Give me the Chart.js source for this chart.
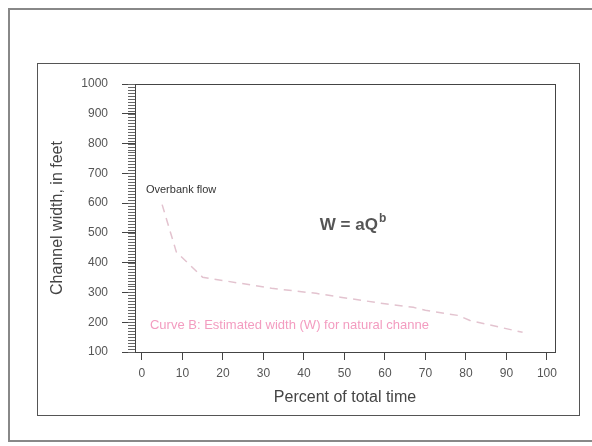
<!DOCTYPE html>
<html>
<head>
<meta charset="utf-8">
<script src="https://cdn.jsdelivr.net/npm/chart.js@4/dist/chart.umd.min.js"></script>
<style>
  html, body { margin: 0; padding: 0; background: #fff; }
  #page { position: relative; width: 592px; height: 446px; overflow: hidden; }
  #outer { position: absolute; left: 8px; top: 8px; width: 600px; height: 434px; border: 2px solid #888; box-sizing: border-box; }
  #inner { position: absolute; left: 37px; top: 63px; width: 543px; height: 353px; border: 1px solid #555; box-sizing: border-box; }
  #chart { position: absolute; left: 0; top: 0; }
</style>
</head>
<body>
<div id="page">
  <div id="outer"></div>
  <div id="inner"></div>
  <canvas id="chart" width="592" height="446"></canvas>
</div>
<script>
// percent of total time vs channel width (ft)
const timePct = [5, 8.5, 15, 32, 43, 49, 60, 67, 70, 78, 81, 94];
const widthFt = [595, 436, 351, 314, 297, 284, 262, 250, 240, 223, 206, 166];

const xTicks = [0, 10, 20, 30, 40, 50, 60, 70, 80, 90, 100];
const yTicks = [100, 200, 300, 400, 500, 600, 700, 800, 900, 1000];

const axisGray = "#555";
const curveColor = "#e3c3cf";
const pink = "#f39cc0";
const fontFamily = "'Liberation Sans', Arial, sans-serif";

const points = timePct.map((x, i) => ({ x, y: widthFt[i] }));

// box round the plot, minor y ticks and the text notes
const decorations = {
  id: "decorations",
  afterDraw(chart) {
    const { ctx, chartArea: a, scales } = chart;
    const xs = scales.x;
    const ys = scales.y;
    ctx.save();
    ctx.strokeStyle = "#444";
    ctx.lineWidth = 1;
    ctx.strokeRect(a.left + 0.5, a.top + 0.5, a.right - a.left, a.bottom - a.top);

    ctx.strokeStyle = "#666";
    ctx.beginPath();
    for (let v = 100; v <= 1000; v += 10) {
      const y = Math.round(ys.getPixelForValue(v)) + 0.5;
      ctx.moveTo(a.left - 7, y);
      ctx.lineTo(a.left, y);
    }
    ctx.stroke();

    ctx.textBaseline = "middle";
    ctx.fillStyle = "#333";
    ctx.font = "11px " + fontFamily;
    ctx.fillText("Overbank flow", xs.getPixelForValue(1), ys.getPixelForValue(645));

    const wx = xs.getPixelForValue(52);
    const wy = ys.getPixelForValue(527);
    ctx.fillStyle = "#555";
    const main = "W = aQ";
    ctx.font = "bold 12px " + fontFamily;
    const supW = ctx.measureText("b").width;
    ctx.font = "bold 17px " + fontFamily;
    const mainW = ctx.measureText(main).width;
    const start = wx - (mainW + supW) / 2;
    ctx.fillText(main, start, wy);
    ctx.font = "bold 12px " + fontFamily;
    ctx.fillText("b", start + mainW + 1, wy - 6);

    ctx.fillStyle = pink;
    ctx.font = "13px " + fontFamily;
    ctx.fillText("Curve B: Estimated width (W) for natural channe", xs.getPixelForValue(2), ys.getPixelForValue(189));
    ctx.restore();
  },
};

new Chart(document.getElementById("chart"), {
  type: "line",
  data: {
    datasets: [
      {
        data: points,
        borderColor: curveColor,
        borderWidth: 1.5,
        borderDash: [8, 6],
        pointRadius: 0,
        tension: 0,
        fill: false,
      },
    ],
  },
  options: {
    responsive: false,
    animation: false,
    layout: { padding: { left: 48, top: 84, right: 37, bottom: 39 } },
    plugins: {
      legend: { display: false },
      tooltip: { enabled: false },
    },
    scales: {
      x: {
        type: "linear",
        min: -1.7,
        max: 102,
        afterBuildTicks: (axis) => {
          axis.ticks = xTicks.map((v) => ({ value: v }));
        },
        afterFit: (axis) => {
          axis.height = 55;
        },
        grid: { drawOnChartArea: false, drawTicks: true, tickLength: 8, tickColor: "#444" },
        border: { display: true, color: "#444" },
        ticks: {
          padding: 6,
          color: axisGray,
          maxRotation: 0,
          autoSkip: false,
          callback: (v) => String(v),
          font: { family: fontFamily, size: 12 },
        },
        title: {
          display: true,
          text: "Percent of total time",
          color: "#444",
          padding: 0,
          font: { family: fontFamily, size: 16 },
        },
      },
      y: {
        type: "linear",
        min: 100,
        max: 1000,
        afterBuildTicks: (axis) => {
          axis.ticks = yTicks.map((v) => ({ value: v }));
        },
        afterFit: (axis) => {
          axis.width = 87;
        },
        grid: { drawOnChartArea: false, drawTicks: true, tickLength: 13, tickColor: "#444" },
        border: { display: true, color: "#444" },
        ticks: {
          padding: 14,
          color: axisGray,
          autoSkip: false,
          callback: (v) => String(v),
          font: { family: fontFamily, size: 12 },
        },
        title: {
          display: true,
          text: "Channel width, in feet",
          color: "#444",
          padding: 0,
          font: { family: fontFamily, size: 16 },
        },
      },
    },
  },
  plugins: [decorations],
});
</script>
</body>
</html>
